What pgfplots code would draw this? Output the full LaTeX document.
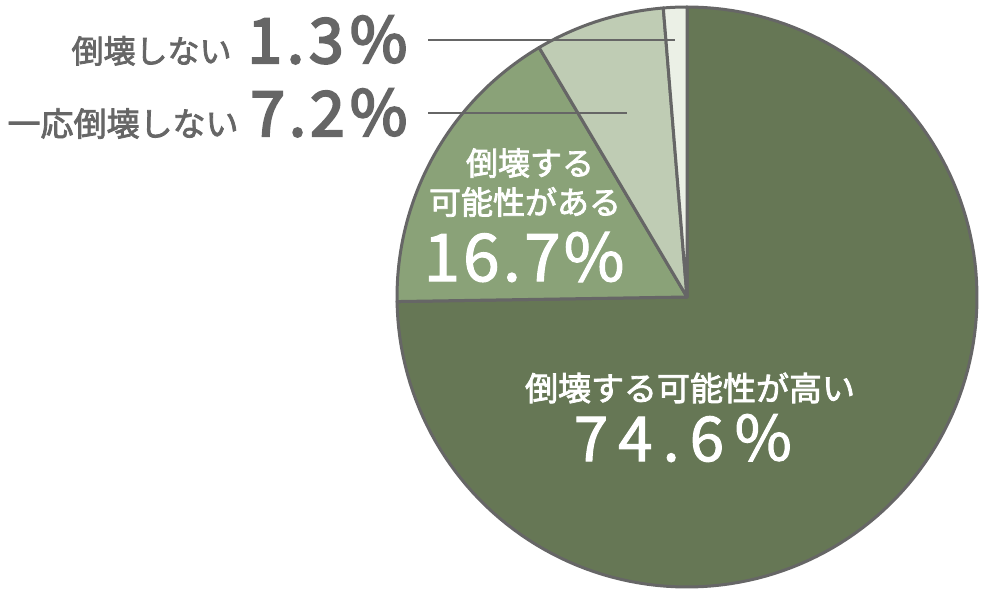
\documentclass[border=0pt]{standalone}
\usepackage{pgfplots}
\pgfplotsset{compat=1.18}
\usepackage{fontspec}
\setmainfont{Noto Sans CJK JP}
\newfontfamily\medfont{Noto Sans CJK JP}[FakeBold=1.6]
\newfontfamily\semifont{Noto Sans CJK JP}[FakeBold=2.4]
\newfontfamily\heavyfont{Noto Sans CJK JP}[FakeBold=3.6]
\definecolor{c1}{HTML}{667755}
\definecolor{c2}{HTML}{8AA278}
\definecolor{c3}{HTML}{BFCCB4}
\definecolor{c4}{HTML}{EBF0E6}
\definecolor{edge}{HTML}{666666}
\definecolor{lab}{HTML}{666666}
% data (percent)
\def\vA{74.6}\def\vB{16.7}\def\vC{7.2}\def\vD{1.3}
\pgfmathsetmacro{\tot}{\vA+\vB+\vC+\vD}
\pgfmathsetmacro{\aA}{90}
\pgfmathsetmacro{\aB}{\aA-\vA/\tot*360}
\pgfmathsetmacro{\aC}{\aB-\vB/\tot*360}
\pgfmathsetmacro{\aD}{\aC-\vC/\tot*360}
\pgfmathsetmacro{\aE}{\aD-\vD/\tot*360}
\def\cx{687}\def\cy{298}\def\R{290}
\newcommand{\bignum}[1]{\fontsize{31}{31}\selectfont #1}
\begin{document}
\begin{tikzpicture}
\begin{axis}[name=ax, scale only axis, width=500pt, height=297.5pt,
  xmin=0, xmax=1000, ymin=0, ymax=595, hide axis, clip=false]
\addplot[fill=c1, draw=edge, line width=1.5pt, line join=round, domain=\aB:\aA, samples=150, variable=\t]
  ({\cx+\R*cos(\t)},{\cy+\R*sin(\t)}) -- (\cx,\cy) -- cycle;
\addplot[fill=c2, draw=edge, line width=1.5pt, line join=round, domain=\aC:\aB, samples=50, variable=\t]
  ({\cx+\R*cos(\t)},{\cy+\R*sin(\t)}) -- (\cx,\cy) -- cycle;
\addplot[fill=c3, draw=edge, line width=1.5pt, line join=round, domain=\aD:\aC, samples=30, variable=\t]
  ({\cx+\R*cos(\t)},{\cy+\R*sin(\t)}) -- (\cx,\cy) -- cycle;
\addplot[fill=c4, draw=edge, line width=1.5pt, line join=round, domain=\aE:\aD, samples=10, variable=\t]
  ({\cx+\R*cos(\t)},{\cy+\R*sin(\t)}) -- (\cx,\cy) -- cycle;
% leader lines
\addplot[edge, line width=1pt] coordinates {(428,555) (675,555)};
\addplot[edge, line width=1pt] coordinates {(428,482) (627,482)};
% outside labels
\node[anchor=base east, text=lab, inner sep=0pt] at (axis cs:410,532)
  {{\semifont\fontsize{16}{16}\selectfont 倒壊しない}\hspace{8pt}{\heavyfont\bignum{1\kern2.5pt.\kern2.5pt3\kern2pt ％}}};
\node[anchor=base east, text=lab, inner sep=0pt] at (axis cs:410,459)
  {{\semifont\fontsize{16.5}{16.5}\selectfont 一応倒壊しない}\hspace{6pt}{\heavyfont\bignum{7\kern2pt.\kern2pt2\kern1.5pt ％}}};
% inside labels
\node[text=white, inner sep=0pt] at (axis cs:530,432) {\semifont\fontsize{16}{16}\selectfont 倒壊する};
\node[text=white, inner sep=0pt] at (axis cs:525,393) {\semifont\fontsize{16}{16}\selectfont 可能性がある};
\node[text=white, inner sep=0pt] at (axis cs:524,338) {\medfont\fontsize{33}{33}\selectfont 1\kern1.5pt 6\kern1.5pt.\kern1.5pt 7\kern1.5pt\%};
\node[text=white, inner sep=0pt] at (axis cs:690,207) {\semifont\fontsize{16.5}{16.5}\selectfont 倒壊する可能性が高い};
\node[text=white, inner sep=0pt] at (axis cs:684,157) {\medfont\fontsize{31}{31}\selectfont 7\kern5pt 4\kern5pt.\kern5pt 6\kern4pt ％};
\end{axis}
\pgfresetboundingbox
\useasboundingbox (ax.south west) rectangle (ax.north east);
\end{tikzpicture}
\end{document}
